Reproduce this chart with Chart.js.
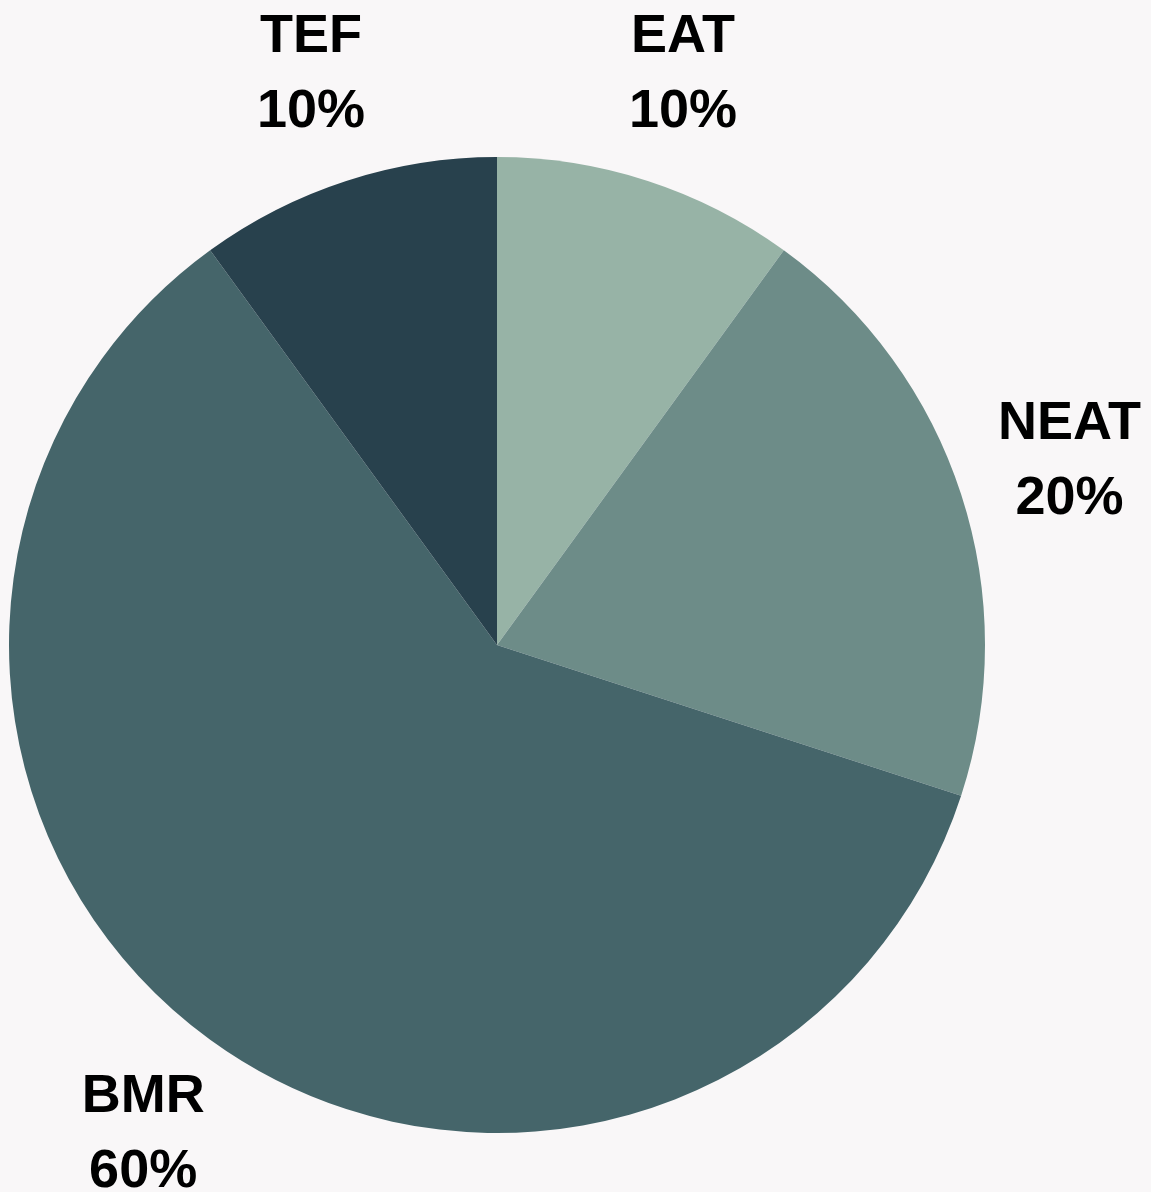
<!DOCTYPE html>
<html>
<head>
<meta charset="utf-8">
<script src="https://cdn.jsdelivr.net/npm/chart.js@4"></script>
<style>
  html, body { margin: 0; padding: 0; background: #f9f7f8; }
  #wrap { width: 1151px; height: 1192px; }
</style>
</head>
<body>
<div id="wrap"><canvas id="chart"></canvas></div>
<script>
const labels = ["EAT", "NEAT", "BMR", "TEF"];
const shares = [10, 20, 60, 10];
const colors = ["#97b3a6", "#6d8c88", "#45656a", "#28414d"];

const ctx = document.getElementById("chart");

// labels drawn outside each slice, name on top and percent below
const outsideLabels = {
  id: "outsideLabels",
  afterDatasetsDraw(chart) {
    const c = chart.ctx;
    const arcs = chart.getDatasetMeta(0).data;
    c.save();
    c.font = "bold 54px 'Liberation Sans', Arial, sans-serif";
    c.fillStyle = "#000";
    c.textAlign = "center";
    c.textBaseline = "middle";
    arcs.forEach((arc, i) => {
      const p = arc.getProps(["x", "y", "startAngle", "endAngle", "outerRadius"], true);
      const mid = (p.startAngle + p.endAngle) / 2;
      const r = p.outerRadius + 114;
      const x = p.x + Math.cos(mid) * r;
      const y = p.y + Math.sin(mid) * r;
      c.fillText(labels[i], x, y - 35);
      c.fillText(shares[i] + "%", x, y + 40);
    });
    c.restore();
  },
};

new Chart(ctx, {
  type: "pie",
  data: {
    labels: labels,
    datasets: [
      {
        data: shares,
        backgroundColor: colors,
        borderWidth: 0,
      },
    ],
  },
  options: {
    responsive: true,
    maintainAspectRatio: false,
    animation: false,
    layout: {
      padding: { left: 9, right: 166, top: 157, bottom: 59 },
    },
    plugins: {
      legend: { display: false },
      tooltip: { enabled: false },
    },
  },
  plugins: [outsideLabels],
});
</script>
</body>
</html>
